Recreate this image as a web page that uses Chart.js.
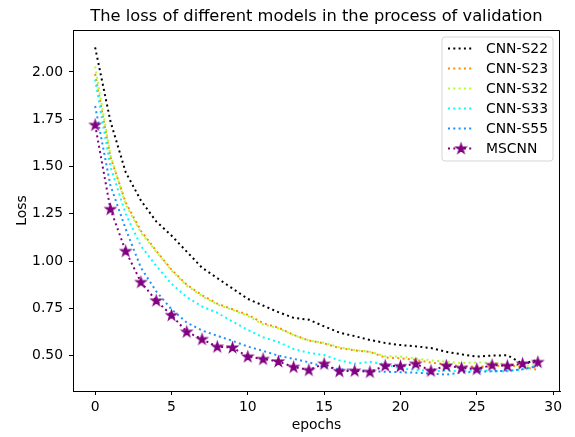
<!DOCTYPE html>
<html>
<head>
<meta charset="utf-8">
<script src="https://cdn.jsdelivr.net/npm/chart.js"></script>
<style>
  body { margin: 0; background: #fff; }
  canvas { display: block; }
</style>
</head>
<body>
<canvas id="lossChart" width="575" height="437"></canvas>
<script>
const epochs = [0, 1, 2, 3, 4, 5, 6, 7, 8, 9, 10, 11, 12, 13, 14, 15, 16, 17, 18, 19, 20, 21, 22, 23, 24, 25, 26, 27, 28, 29];

const cnnS22 = [2.13, 1.74, 1.47, 1.32, 1.21, 1.135, 1.05, 0.965, 0.91, 0.855, 0.80, 0.765, 0.73, 0.70, 0.69, 0.655, 0.622, 0.603, 0.583, 0.567, 0.556, 0.549, 0.54, 0.52, 0.507, 0.495, 0.50, 0.502, 0.458, 0.478];
const cnnS23 = [1.99, 1.55, 1.31, 1.16, 1.055, 0.955, 0.875, 0.82, 0.775, 0.745, 0.716, 0.672, 0.648, 0.61, 0.58, 0.565, 0.54, 0.528, 0.52, 0.49, 0.486, 0.478, 0.463, 0.455, 0.443, 0.443, 0.443, 0.45, 0.44, 0.425];
const cnnS32 = [2.03, 1.56, 1.30, 1.15, 1.05, 0.95, 0.87, 0.815, 0.77, 0.742, 0.71, 0.665, 0.645, 0.608, 0.58, 0.568, 0.545, 0.53, 0.52, 0.497, 0.495, 0.485, 0.475, 0.468, 0.46, 0.464, 0.462, 0.455, 0.446, 0.45];
const cnnS33 = [1.96, 1.50, 1.25, 1.08, 0.975, 0.88, 0.81, 0.76, 0.727, 0.68, 0.636, 0.597, 0.572, 0.535, 0.515, 0.503, 0.475, 0.457, 0.467, 0.455, 0.432, 0.425, 0.418, 0.42, 0.418, 0.425, 0.418, 0.418, 0.428, 0.445];
const cnnS55 = [1.82, 1.40, 1.17, 0.965, 0.84, 0.745, 0.675, 0.633, 0.605, 0.578, 0.548, 0.525, 0.50, 0.483, 0.465, 0.44, 0.428, 0.424, 0.418, 0.415, 0.412, 0.41, 0.405, 0.40, 0.41, 0.415, 0.417, 0.42, 0.428, 0.445];
const mscnn = [1.72, 1.275, 1.053, 0.889, 0.791, 0.714, 0.626, 0.587, 0.547, 0.543, 0.495, 0.482, 0.469, 0.44, 0.424, 0.457, 0.418, 0.42, 0.414, 0.447, 0.444, 0.457, 0.42, 0.447, 0.435, 0.429, 0.45, 0.446, 0.458, 0.466];

const seriesNames = ["CNN-S22", "CNN-S23", "CNN-S32", "CNN-S33", "CNN-S55", "MSCNN"];
const seriesColors = ["#000000", "#ff8c00", "#adff2f", "#00ffff", "#1e90ff", "#800080"];

const xTicks = [0, 5, 10, 15, 20, 25, 30];
const yTicks = [0.50, 0.75, 1.00, 1.25, 1.50, 1.75, 2.00];
const yTickLabels = ["0.50", "0.75", "1.00", "1.25", "1.50", "1.75", "2.00"];

const FONT = "'DejaVu Sans', sans-serif";

// filled 5 point star like matplotlib's '*' marker
function makeStar(color) {
  const c = document.createElement("canvas");
  c.width = 15; c.height = 15;
  const g = c.getContext("2d");
  const R = 5.3, r = R * 0.382;
  g.beginPath();
  for (let i = 0; i < 10; i++) {
    const a = -Math.PI / 2 + i * Math.PI / 5;
    const rad = i % 2 === 0 ? R : r;
    const px = 7.5 + rad * Math.cos(a), py = 7.8 + rad * Math.sin(a);
    if (i === 0) g.moveTo(px, py); else g.lineTo(px, py);
  }
  g.closePath();
  g.fillStyle = color;
  g.strokeStyle = color;
  g.lineWidth = 1.2;
  g.lineJoin = "miter";
  g.fill();
  g.stroke();
  return c;
}
const starImg = makeStar("#800080");

const allSeries = [cnnS22, cnnS23, cnnS32, cnnS33, cnnS55, mscnn];
const datasets = allSeries.map((vals, i) => ({
  label: seriesNames[i],
  data: epochs.map((e, j) => ({ x: e, y: vals[j] })),
  borderColor: seriesColors[i],
  backgroundColor: seriesColors[i],
  borderWidth: 2,
  borderDash: [2, 3.3],
  borderCapStyle: 'butt',
  fill: false,
  tension: 0,
  pointRadius: i === 5 ? 5 : 0,
  pointStyle: i === 5 ? starImg : 'circle',
  pointHoverRadius: 0,
  order: 5 - i
}));

const frameAndLegend = {
  id: 'frameAndLegend',
  afterDraw(chart) {
    const ctx = chart.ctx;
    const a = chart.chartArea;
    ctx.save();
    // top and right spines
    ctx.strokeStyle = "#000";
    ctx.lineWidth = 1;
    ctx.beginPath();
    ctx.moveTo(a.left, a.top + 0.5);
    ctx.lineTo(a.right - 0.5, a.top + 0.5);
    ctx.lineTo(a.right - 0.5, a.bottom);
    ctx.stroke();

    // title
    ctx.fillStyle = "#000";
    ctx.font = "16.3px " + FONT;
    ctx.textAlign = "center";
    ctx.textBaseline = "middle";
    ctx.fillText("The loss of different models in the process of validation", (a.left + a.right) / 2, 17);

    // legend
    ctx.font = "13.9px " + FONT;
    const ds = chart.data.datasets;
    let maxW = 0;
    ds.forEach(d => { maxW = Math.max(maxW, ctx.measureText(d.label).width); });
    const boxW = 44 + maxW + 5;
    const boxH = 124;
    const x0 = a.right - 7 - boxW, y0 = a.top + 7;
    ctx.beginPath();
    ctx.roundRect(x0, y0, boxW, boxH, 3);
    ctx.fillStyle = "rgba(255,255,255,0.8)";
    ctx.fill();
    ctx.strokeStyle = "rgba(204,204,204,0.8)";
    ctx.lineWidth = 1;
    ctx.stroke();
    ds.forEach((d, i) => {
      const yy = y0 + 11.5 + i * 20;
      ctx.strokeStyle = d.borderColor;
      ctx.lineWidth = d.borderWidth;
      ctx.setLineDash(d.borderDash);
      ctx.beginPath();
      ctx.moveTo(x0 + 6, yy);
      ctx.lineTo(x0 + 32, yy);
      ctx.stroke();
      ctx.setLineDash([]);
      if (d.pointRadius > 0) {
        ctx.drawImage(d.pointStyle, x0 + 19 - d.pointStyle.width / 2, yy - d.pointStyle.height / 2);
      }
      ctx.fillStyle = "#000";
      ctx.textAlign = "left";
      ctx.textBaseline = "middle";
      ctx.fillText(d.label, x0 + 44, yy + 1);
    });
    ctx.restore();
  }
};

new Chart(document.getElementById("lossChart"), {
  type: 'line',
  data: { datasets: datasets },
  options: {
    responsive: false,
    animation: false,
    devicePixelRatio: 1,
    layout: { padding: { left: 0, right: 15, top: 30, bottom: 0 } },
    plugins: {
      legend: { display: false },
      title: { display: false },
      tooltip: { enabled: false }
    },
    scales: {
      x: {
        type: 'linear',
        min: -1.45,
        max: 30.45,
        afterBuildTicks: s => { s.ticks = xTicks.map(v => ({ value: v })); },
        afterFit: s => { s.height = 46; },
        ticks: {
          autoSkip: false,
          maxRotation: 0,
          color: "#000",
          padding: 4,
          font: { family: FONT, size: 13.9 },
          callback: (v, i) => String(xTicks[i])
        },
        grid: { drawOnChartArea: false, drawTicks: true, tickLength: 4, color: "#000", lineWidth: 1 },
        border: { display: true, color: "#000", width: 1 },
        title: { display: true, text: "epochs", color: "#000", font: { family: FONT, size: 13.9 }, padding: { top: 0, bottom: 3 } }
      },
      y: {
        type: 'linear',
        min: 0.313,
        max: 2.222,
        afterBuildTicks: s => { s.ticks = yTicks.map(v => ({ value: v })); },
        afterFit: s => { s.width = 73; },
        ticks: {
          autoSkip: false,
          color: "#000",
          padding: 6,
          font: { family: FONT, size: 13.9 },
          callback: (v, i) => yTickLabels[i]
        },
        grid: { drawOnChartArea: false, drawTicks: true, tickLength: 4, color: "#000", lineWidth: 1 },
        border: { display: true, color: "#000", width: 1 },
        title: { display: true, text: "Loss", color: "#000", font: { family: FONT, size: 13.9 }, padding: { top: 14, bottom: 0 } }
      }
    }
  },
  plugins: [frameAndLegend]
});
</script>
</body>
</html>
